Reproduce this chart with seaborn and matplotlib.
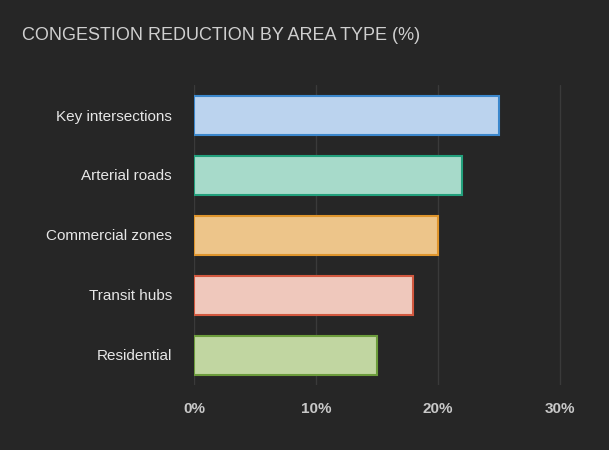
import matplotlib
matplotlib.use("Agg")
import matplotlib.pyplot as plt
import seaborn as sns
import pandas as pd

categories = ["Key intersections", "Arterial roads", "Commercial zones", "Transit hubs", "Residential"]
values = [25, 22, 20, 18, 15]
fills = ["#b3d3f6", "#9ee2cd", "#fdc87a", "#f7c4b4", "#c3df98"]
edges = ["#3b87cc", "#22a07c", "#df952c", "#d2583f", "#6c9c3c"]
xticks = [0, 10, 20, 30]
xticklabels = ["0%", "10%", "20%", "30%"]

bg = "#262626"
sns.set_theme(style="dark")
plt.rcParams['font.family'] = ['Liberation Sans', 'DejaVu Sans']

fig = plt.figure(figsize=(6.09, 4.5), dpi=100, facecolor=bg)
ax = fig.add_axes([194/609, 1-385/450, (590-194)/609, 300/450])
ax.set_facecolor(bg)

df = pd.DataFrame({"cat": categories, "val": values})
sns.barplot(data=df, x="val", y="cat", hue="cat", palette=fills, legend=False,
            width=0.65, ax=ax, zorder=3)
for p, e in zip(ax.patches, edges):
    p.set_edgecolor(e)
    p.set_linewidth(1.5)

ax.set_xlim(0, 32.5)
ax.set_xticks(xticks)
ax.set_xticklabels(xticklabels, fontweight="bold", color="#c8c8c8", fontsize=11)
ax.tick_params(axis="y", colors="#e0e0e0", labelsize=11, length=0, pad=16)
ax.tick_params(axis="x", length=0, pad=12)
for lbl in ax.get_yticklabels():
    lbl.set_color("#e6e6e6")
ax.set_xlabel("")
ax.set_ylabel("")
ax.grid(axis="x", color="#3a3a3a", linewidth=1, zorder=0)
ax.grid(axis="y", visible=False)
for s in ax.spines.values():
    s.set_visible(False)

fig.text(22/609, 1-35/450, "CONGESTION REDUCTION BY AREA TYPE (%)", color="#cfcfcf",
         fontsize=13, va="center", ha="left")

fig.savefig("out.png", dpi=100, facecolor=bg)
